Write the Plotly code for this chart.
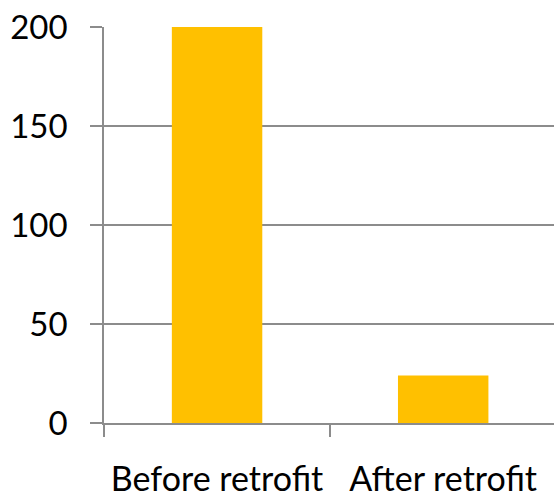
import plotly.graph_objects as go

categories = ["Before retrofit", "After retrofit"]
values = [200, 24]
y_ticks = [0, 50, 100, 150, 200]

fig = go.Figure(go.Bar(x=categories, y=values, marker=dict(color="#FFC000", line=dict(width=0))))

grid = "#8C8C8C"
fig.update_layout(
    width=554, height=499,
    margin=dict(l=104, r=0, t=27, b=76, autoexpand=False),
    paper_bgcolor="white", plot_bgcolor="white",
    bargap=0.6,
    showlegend=False,
    font=dict(family="Lato, Calibri, sans-serif", size=34, color="black"),
)
fig.update_xaxes(
    type="category", range=[-0.5, 1.49], tickson="boundaries",
    ticks="outside", ticklen=12, tickcolor=grid, tickwidth=1.5,
    showline=True, linecolor=grid, linewidth=1.5,
    showgrid=False, ticklabelstandoff=25, tickangle=0, automargin=False,
)
fig.update_yaxes(
    range=[0, 200], tickvals=y_ticks,
    ticks="outside", ticklen=12, tickcolor=grid, tickwidth=1.5,
    showline=True, linecolor=grid, linewidth=1.5,
    showgrid=True, gridcolor=grid, gridwidth=1.5,
    zeroline=False, ticklabelstandoff=16, automargin=False,
    tickfont=dict(size=33),
)
fig.write_html("out.html")
